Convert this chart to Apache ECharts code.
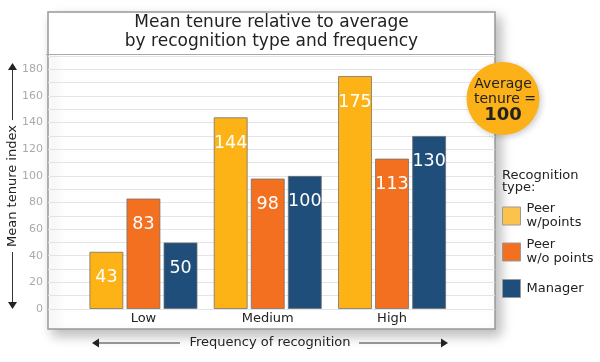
<!DOCTYPE html>
<html><head><meta charset="utf-8">
<script src="https://cdn.jsdelivr.net/npm/echarts@6/dist/echarts.min.js"></script>
<style>html,body{margin:0;padding:0;background:#fff}#c{width:600px;height:362px}</style>
</head><body><div id="c"></div>
<script>
const categories = ['Low', 'Medium', 'High'];
const seriesNames = ['Peer\nw/points', 'Peer\nw/o points', 'Manager'];
const peerWithPoints = [43, 144, 175];
const peerWithoutPoints = [83, 98, 113];
const managerValues = [50, 100, 130];
const seriesColors = ['#FDB316', '#F37021', '#1F4E7B'];
const legendColors = ['#FBC24C', '#F37021', '#1F4E7B'];
const yMin = 0, yMax = 190, yStep = 10, yLabelStep = 20, yLabelMax = 180;
const titleLines = ['Mean tenure relative to average', 'by recognition type and frequency'];

const FONT = 'DejaVu Sans';
const chart = echarts.init(document.getElementById('c'), null, {renderer: 'canvas'});
const values = [peerWithPoints, peerWithoutPoints, managerValues];

const Z = 50;
const arrowDown = (x, y) => ({type: 'polygon', z: Z, shape: {points: [[x - 4.5, y - 7], [x + 4.5, y - 7], [x, y]]}, style: {fill: '#222'}});
const arrowUp = (x, y) => ({type: 'polygon', z: Z, shape: {points: [[x - 4.5, y + 7], [x + 4.5, y + 7], [x, y]]}, style: {fill: '#222'}});
const arrowLeft = (x, y) => ({type: 'polygon', z: Z, shape: {points: [[x + 7, y - 4.5], [x + 7, y + 4.5], [x, y]]}, style: {fill: '#222'}});
const arrowRight = (x, y) => ({type: 'polygon', z: Z, shape: {points: [[x - 7, y - 4.5], [x - 7, y + 4.5], [x, y]]}, style: {fill: '#222'}});
const line = (x1, y1, x2, y2, c, w) => ({type: 'line', z: Z, shape: {x1, y1, x2, y2}, style: {stroke: c || '#333', lineWidth: w || 1}});
const txt = (x, y, text, font, align, extra) => Object.assign({type: 'text', z: Z + 2, style: {x, y, text, font, fill: '#222', align: align || 'center', verticalAlign: 'middle'}}, extra || {});

const option = {
  animation: false,
  textStyle: {fontFamily: FONT},
  grid: [
    {left: 81.3, right: 145.8, top: 56, bottom: 53},
    {left: 48, right: 105, top: 56, bottom: 53}
  ],
  xAxis: [
    {gridIndex: 0, type: 'category', data: categories, axisLine: {show: false}, axisTick: {show: false},
     axisLabel: {color: '#222', fontSize: 13, margin: 3, fontFamily: FONT}},
    {gridIndex: 1, type: 'value', show: false, min: 0, max: 1}
  ],
  yAxis: [
    {gridIndex: 0, type: 'value', min: yMin, max: yMax, show: false},
    {gridIndex: 1, type: 'value', min: yMin, max: yMax, interval: yStep,
     axisLine: {show: false}, axisTick: {show: false},
     splitLine: {lineStyle: {color: '#e4e4e4', width: 1}},
     axisLabel: {color: '#aaaaaa', fontSize: 11, margin: 5, fontFamily: FONT,
       formatter: v => (v % yLabelStep === 0 && v <= yLabelMax) ? String(v) : ''}}
  ],
  legend: seriesNames.map((n, i) => ({
    data: [n], orient: 'vertical', left: 502, top: [202, 238, 279][i], padding: 0,
    itemWidth: 18, itemHeight: 18, itemGap: 0, selectedMode: false,
    icon: 'rect',
    itemStyle: {color: legendColors[i], borderColor: '#999', borderWidth: 1},
    textStyle: {color: '#222', fontSize: 13, lineHeight: 14, fontFamily: FONT, padding: [0, 0, 0, 1]}
  })),
  series: seriesNames.map((n, i) => ({
    name: n, type: 'bar', xAxisIndex: 0, yAxisIndex: 0, data: values[i],
    barWidth: 34, barGap: '9%',
    itemStyle: {color: seriesColors[i], borderColor: 'rgba(110,110,110,0.75)', borderWidth: 1},
    label: {show: true, position: 'insideTop', distance: 17, color: '#fff', fontSize: 17.5, fontFamily: FONT}
  })),
  graphic: [
    {type: 'rect', z: -10, shape: {x: 48, y: 12, width: 447, height: 317},
     style: {fill: '#fff', stroke: '#999', lineWidth: 1.5, shadowBlur: 12, shadowOffsetX: 5, shadowOffsetY: 6, shadowColor: 'rgba(0,0,0,0.28)'}},
    {type: 'rect', z: Z - 5, shape: {x: 49, y: 13, width: 445, height: 41}, style: {fill: '#fff'}},
    line(46, 54.5, 495, 54.5, '#aaa', 1),
    txt(271.5, 23, titleLines[0], '17px "DejaVu Sans"'),
    txt(271.5, 42, titleLines[1], '17px "DejaVu Sans"'),
    // y-axis title with arrows
    line(12.5, 68, 12.5, 120), line(12.5, 252, 12.5, 302),
    arrowUp(12.5, 63), arrowDown(12.5, 309),
    {type: 'text', z: Z + 2, rotation: Math.PI / 2, x: 12.5, y: 186,
     style: {x: 0, y: 0, text: 'Mean tenure index', font: '13px "DejaVu Sans"', fill: '#222', align: 'center', verticalAlign: 'middle'}},
    // x-axis title with arrows
    line(97, 343, 180, 343), line(359, 343, 443, 343),
    arrowLeft(92, 343), arrowRight(448, 343),
    txt(270, 343, 'Frequency of recognition', '13px "DejaVu Sans"'),
    // average circle
    {type: 'circle', z: Z, shape: {cx: 503, cy: 98.5, r: 36.5},
     style: {fill: '#FBB117', shadowBlur: 6, shadowOffsetX: 2, shadowOffsetY: 2, shadowColor: 'rgba(0,0,0,0.2)'}},
    txt(503, 84, 'Average', '14px "DejaVu Sans"'),
    txt(505, 99, 'tenure =', '14px "DejaVu Sans"'),
    txt(503, 115, '100', 'bold 18px "DejaVu Sans"'),
    // legend heading
    txt(502, 176, 'Recognition', '13px "DejaVu Sans"', 'left'),
    txt(502, 188, 'type:', '13px "DejaVu Sans"', 'left')
  ]
};
chart.setOption(option);
</script></body></html>
